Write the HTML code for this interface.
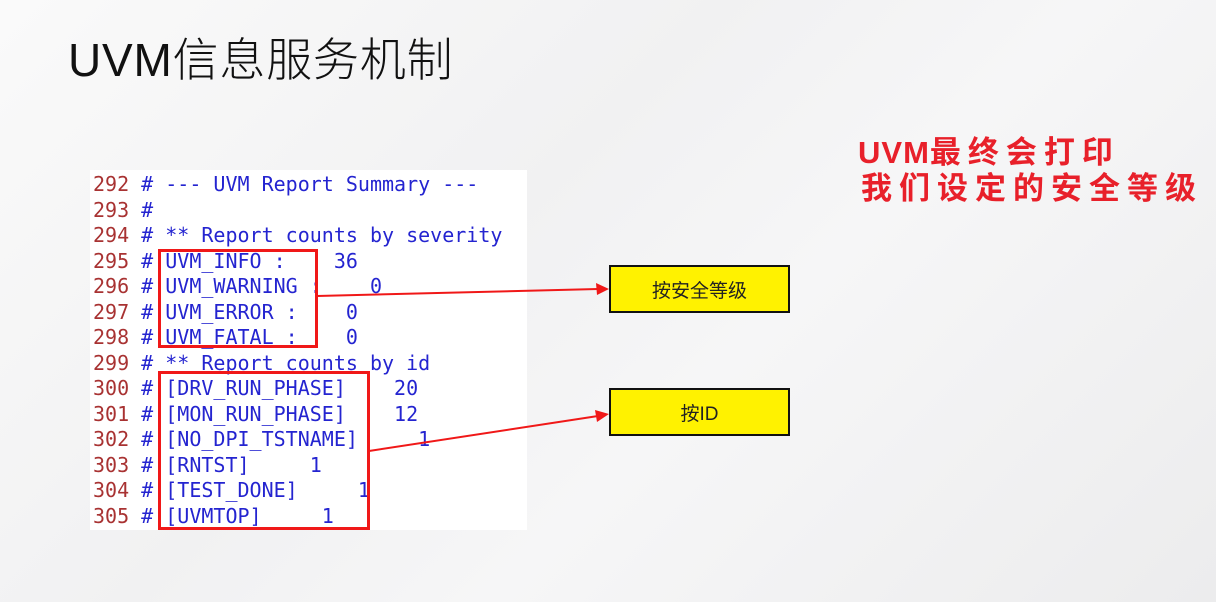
<!DOCTYPE html>
<html><head><meta charset="utf-8"><style>
html,body{margin:0;padding:0}
body{width:1216px;height:602px;position:relative;overflow:hidden;background:linear-gradient(135deg,#fafafa 0%,#f1f1f2 40%,#f6f6f7 60%,#ececed 100%);font-family:"Liberation Sans","Noto Sans CJK SC",sans-serif}
.t{position:absolute;left:68px;top:24px;font-size:46px;color:#111;white-space:nowrap;font-weight:300;letter-spacing:0.8px}
.code{position:absolute;left:90px;top:170px;width:437px;height:360px;background:#fff}
.ln{position:absolute;left:93px;font-family:"DejaVu Sans Mono","Liberation Mono",monospace;font-size:20px;white-space:pre;color:#2424d0;line-height:24px}
.ln b{font-weight:normal;color:#a83232}
.rb{position:absolute;border:3px solid #f01818;box-sizing:border-box}
.yb{position:absolute;left:609px;width:181px;height:48px;background:#fff200;border:2px solid #111;box-sizing:border-box;font-size:19px;color:#222;display:flex;align-items:center;justify-content:center}
.red{position:absolute;left:858px;font-size:31px;color:#e8202a;letter-spacing:7px;white-space:nowrap;font-family:"Liberation Sans","Noto Sans CJK SC",sans-serif;font-weight:bold}
.red span{font-weight:bold;letter-spacing:1px;font-family:"Liberation Sans",sans-serif}
</style></head><body>
<div class="t">UVM信息服务机制</div>
<div class="red" style="top:127px"><span>UVM</span>最终会打印</div>
<div class="red" style="top:163px;left:861px">我们设定的安全等级</div>
<div class="code"></div>
<div class="ln" style="top:172px"><b>292 </b># --- UVM Report Summary ---</div>
<div class="ln" style="top:197.5px"><b>293 </b>#</div>
<div class="ln" style="top:223px"><b>294 </b># ** Report counts by severity</div>
<div class="ln" style="top:248.5px"><b>295 </b># UVM_INFO :    36</div>
<div class="ln" style="top:274px"><b>296 </b># UVM_WARNING :    0</div>
<div class="ln" style="top:299.5px"><b>297 </b># UVM_ERROR :    0</div>
<div class="ln" style="top:325px"><b>298 </b># UVM_FATAL :    0</div>
<div class="ln" style="top:350.5px"><b>299 </b># ** Report counts by id</div>
<div class="ln" style="top:376px"><b>300 </b># [DRV_RUN_PHASE]    20</div>
<div class="ln" style="top:401.5px"><b>301 </b># [MON_RUN_PHASE]    12</div>
<div class="ln" style="top:427px"><b>302 </b># [NO_DPI_TSTNAME]     1</div>
<div class="ln" style="top:452.5px"><b>303 </b># [RNTST]     1</div>
<div class="ln" style="top:478px"><b>304 </b># [TEST_DONE]     1</div>
<div class="ln" style="top:503.5px"><b>305 </b># [UVMTOP]     1</div>
<div class="rb" style="left:158px;top:249px;width:160px;height:99px"></div>
<div class="rb" style="left:158px;top:371px;width:212px;height:159px"></div>
<div class="yb" style="top:265px">按安全等级</div>
<div class="yb" style="top:388px">按ID</div>
<svg width="1216" height="602" style="position:absolute;left:0;top:0">
<line x1="317" y1="296" x2="598" y2="289" stroke="#f01818" stroke-width="2"/>
<polygon points="609,289 596,283 597,295" fill="#f01818"/>
<line x1="369" y1="451" x2="598" y2="416" stroke="#f01818" stroke-width="2"/>
<polygon points="609,414 595,410 597,422" fill="#f01818"/>
</svg>
</body></html>
